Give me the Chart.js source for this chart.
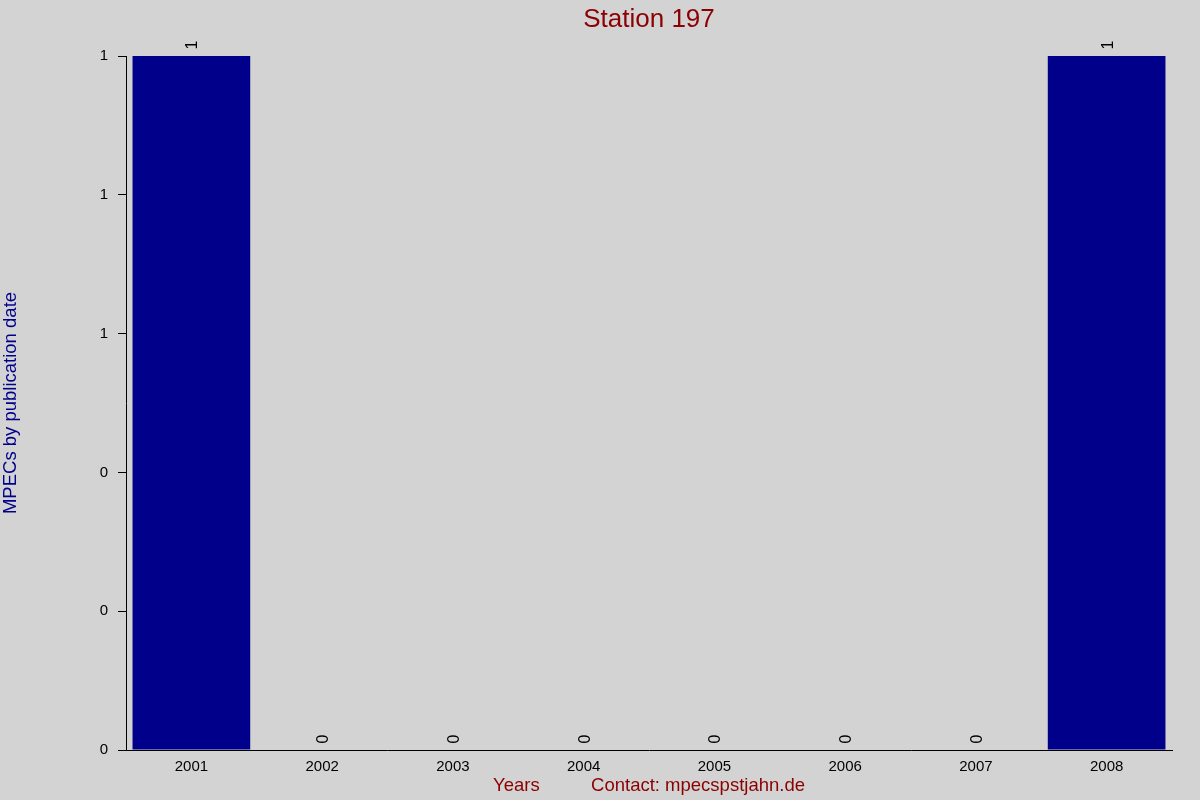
<!DOCTYPE html>
<html>
<head>
<meta charset="utf-8">
<title>Station 197</title>
<script src="https://cdn.jsdelivr.net/npm/chart.js@4/dist/chart.umd.min.js"></script>
<style>
  html, body { margin: 0; padding: 0; background: #d3d3d3; }
  #chartBox { width: 1200px; height: 800px; }
</style>
</head>
<body>
<div id="chartBox"><canvas id="stationChart" width="1200" height="800"></canvas></div>
<script>
// Datos del gráfico
const years = ['2001', '2002', '2003', '2004', '2005', '2006', '2007', '2008'];
const mpecCounts = [1, 0, 0, 0, 0, 0, 0, 1];
const yTickLabels = ['0', '0', '0', '1', '1', '1'];

const FONT = '"Liberation Sans", Arial, sans-serif';
const DARK_RED = '#8b0000';
const NAVY = '#00008b';

// Fondo gris de todo el lienzo
const fondoPlugin = {
    id: 'fondo',
    beforeDraw(chart) {
        const ctx = chart.ctx;
        ctx.save();
        ctx.fillStyle = '#d3d3d3';
        ctx.fillRect(0, 0, chart.width, chart.height);
        ctx.restore();
    }
};

// Etiquetas de valor giradas encima de cada barra
const etiquetasPlugin = {
    id: 'etiquetas',
    afterDatasetsDraw(chart) {
        const ctx = chart.ctx;
        const meta = chart.getDatasetMeta(0);
        ctx.save();
        ctx.fillStyle = '#000000';
        ctx.font = '16px ' + FONT;
        ctx.textAlign = 'center';
        ctx.textBaseline = 'middle';
        meta.data.forEach((bar, i) => {
            ctx.save();
            ctx.translate(bar.x + 1.5, bar.y - 11);
            ctx.rotate(-Math.PI / 2);
            ctx.fillText(String(mpecCounts[i]), 0, 0);
            ctx.restore();
        });
        ctx.restore();
    }
};

new Chart(document.getElementById('stationChart'), {
    type: 'bar',
    data: {
        labels: years,
        datasets: [{
            label: 'MPECs',
            data: mpecCounts,
            backgroundColor: NAVY,
            borderWidth: 0,
            barPercentage: 0.9,
            categoryPercentage: 1.0
        }]
    },
    options: {
        responsive: false,
        animation: false,
        devicePixelRatio: 1,
        layout: {
            padding: { left: 0, top: 0, right: 28, bottom: 0 }
        },
        plugins: {
            legend: { display: false },
            tooltip: { enabled: false },
            title: {
                display: true,
                text: 'Station 197',
                color: DARK_RED,
                fullSize: false,
                font: { family: FONT, size: 26, weight: 'normal', lineHeight: 1.2 },
                padding: { top: 4, bottom: 20.8 }
            }
        },
        scales: {
            x: {
                grid: { display: false },
                border: { display: true, color: '#000000', width: 1 },
                ticks: {
                    color: '#000000',
                    padding: 0,
                    font: { family: FONT, size: 15 }
                },
                title: {
                    display: true,
                    text: 'Years          Contact: mpecspstjahn.de',
                    color: DARK_RED,
                    font: { family: FONT, size: 18.5, lineHeight: 1.2 },
                    padding: { top: 3, bottom: 3 }
                },
                afterFit(scale) { scale.height = 50; }
            },
            y: {
                min: 0,
                max: 1,
                grid: {
                    display: true,
                    drawOnChartArea: false,
                    drawTicks: true,
                    tickLength: 8,
                    color: '#000000'
                },
                border: { display: true, color: '#000000', width: 1 },
                ticks: {
                    stepSize: 0.2,
                    color: '#000000',
                    padding: 10,
                    font: { family: FONT, size: 15 },
                    callback: (value, index) => yTickLabels[index]
                },
                title: {
                    display: true,
                    text: 'MPECs by publication date',
                    color: NAVY,
                    font: { family: FONT, size: 18.5, lineHeight: 1.2 },
                    padding: { top: 0, bottom: 0 }
                },
                afterFit(scale) { scale.width = 126; }
            }
        }
    },
    plugins: [fondoPlugin, etiquetasPlugin]
});
</script>
</body>
</html>
